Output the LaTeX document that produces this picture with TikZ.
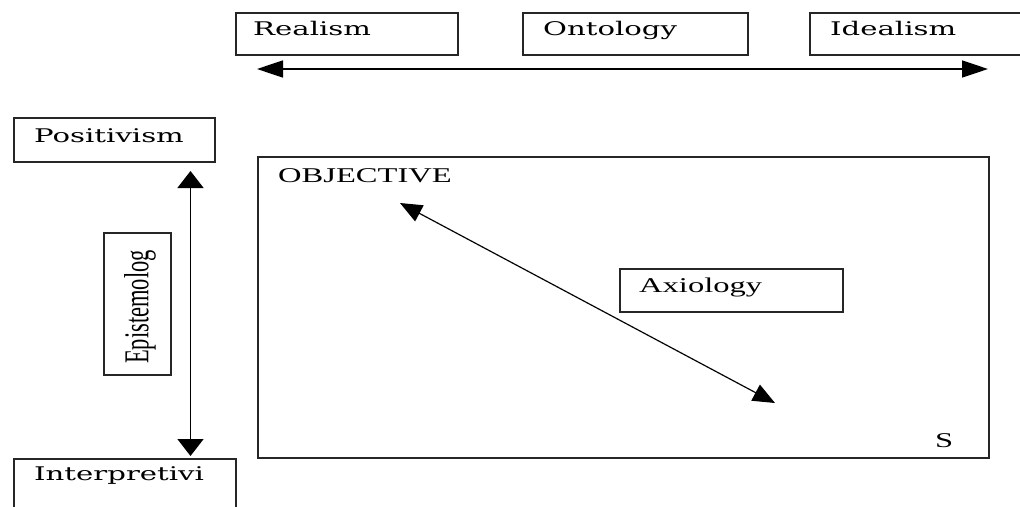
\documentclass[tikz,border=0pt]{standalone}
\usepackage{fontspec}
\setmainfont{Liberation Serif}
\newfontfamily\schfont{DejaVu Serif}
\usetikzlibrary{arrows.meta}
% horizontally widened text
\newcommand\wtext[1]{\scalebox{1.55}[1]{#1}}
\begin{document}
\begin{tikzpicture}[x=1pt,y=-1pt,
  frame/.style={draw=black!85, line width=1.6pt, inner sep=0pt, anchor=north west},
  sch/.style={anchor=base west, inner sep=0pt, font=\fontsize{18.8}{20}\schfont},
  tms/.style={anchor=base west, inner sep=0pt, font=\fontsize{21}{24}\selectfont},
  hbar/.style={line width=1.6pt, {Triangle[length=26pt,width=17pt]}-{Triangle[length=26pt,width=17pt]}},
  vbar/.style={line width=1.6pt, {Triangle[length=17pt,width=26pt]}-{Triangle[length=17pt,width=26pt]}},
  dbar/.style={line width=1.2pt, {Triangle[length=22pt,width=18pt]}-{Triangle[length=22pt,width=18pt]}}
]
\useasboundingbox (0,0) rectangle (1020,506);
\clip (0,0) rectangle (1020,506);

% ontology scale
\node[frame, minimum width=222pt, minimum height=42pt] (realbox) at (235,12) {};
\node[frame, minimum width=225pt, minimum height=42pt] (ontbox) at (522,12) {};
\node[frame, minimum width=230pt, minimum height=42pt] (idealbox) at (809,12) {};
\node[sch] (real) at (253,35) {\wtext{Realism}};
\node[sch] (ont) at (543,35) {\wtext{Ontology}};
\node[sch] (ideal) at (830,35) {\wtext{Idealism}};
\coordinate (hl) at (257,69);
\coordinate (hr) at (988,69);
\draw[hbar] (hl) -- (hr);

% epistemology scale
\node[frame, minimum width=201pt, minimum height=44pt] (posbox) at (13,117) {};
\node[sch] (pos) at (34,142) {\wtext{Positivism}};
\node[frame, minimum width=222pt, minimum height=60pt] (interbox) at (13,458) {};
\node[sch] (inter) at (34,480) {\wtext{Interpretivi}};
\node[frame, minimum width=67pt, minimum height=142pt] (episbox) at (103,232) {};
\node[inner sep=0pt, font=\fontsize{22.5}{24}\selectfont] (epis) at (140,307)
  {\scalebox{1.55}[1]{\rotatebox{90}{Epistemolog}}};
\coordinate (vt) at (190.5,171);
\coordinate (vb) at (190.5,456);
\draw[vbar] (vt) -- (vb);

% axiology field
\node[frame, minimum width=731pt, minimum height=301pt] (mainbox) at (257,156) {};
\node[tms] (obj) at (278,182) {\wtext{OBJECTIVE}};
\node[frame, minimum width=223pt, minimum height=43pt] (axbox) at (619,268) {};
\node[tms] (ax) at (639,292) {\wtext{Axiology}};
\node[tms] (subj) at (935,447) {\wtext{S}};
\coordinate (da) at (400,203);
\coordinate (db) at (775,403);
\draw[dbar] (da) -- (db);
\end{tikzpicture}
\end{document}
